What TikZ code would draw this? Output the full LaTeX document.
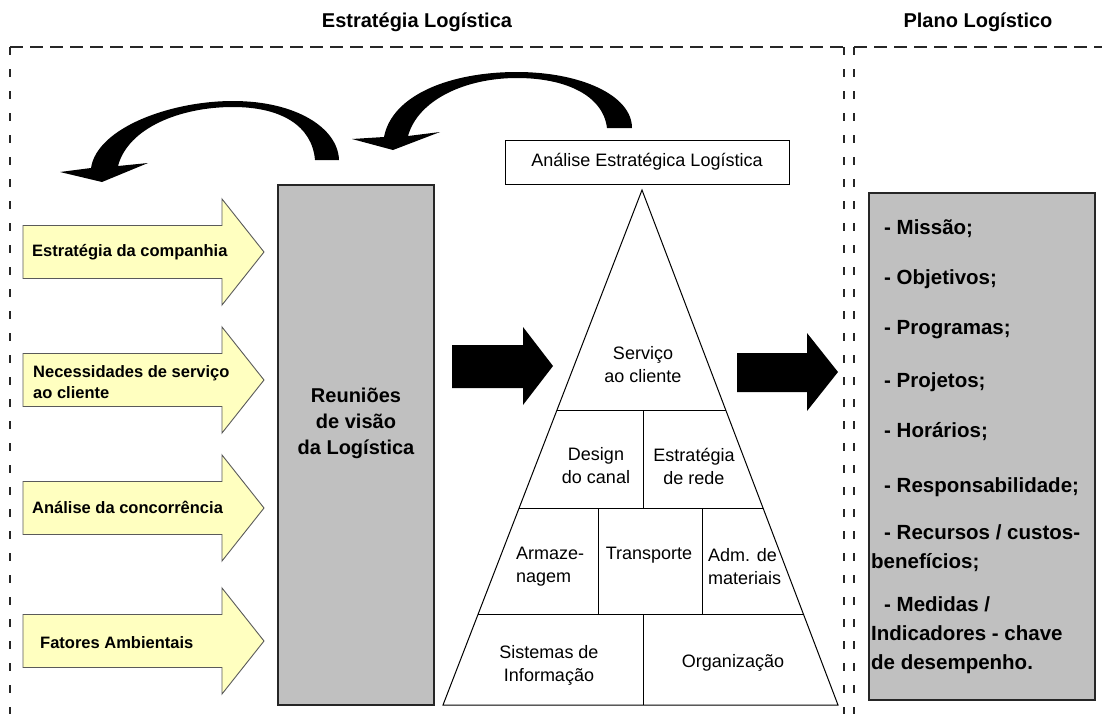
\documentclass[tikz,border=0pt]{standalone}
\usepackage{fontspec}
\setmainfont{Liberation Sans}
\usetikzlibrary{calc}
\definecolor{paleyellow}{RGB}{255,255,192}
\definecolor{panelgrey}{RGB}{192,192,192}
\definecolor{edgegrey}{RGB}{90,90,90}

\begin{document}
\begin{tikzpicture}[x=1pt,y=-1pt,
  frametop/.style={line width=1.2pt, draw=black!85, dash pattern=on 13pt off 7pt},
  frameside/.style={line width=1.2pt, draw=black!85, dash pattern=on 8pt off 14pt},
  title/.style={font=\bfseries\fontsize{20}{24}\selectfont, inner sep=0pt},
  inarrow/.style={fill=paleyellow, draw=edgegrey, line width=0.9pt, line join=miter},
  inlabel/.style={font=\bfseries\fontsize{16.5}{21}\selectfont, anchor=west, align=left, inner sep=0pt},
  panel/.style={fill=panelgrey, draw=black!85, line width=1.2pt, inner sep=0pt},
  blockarrow/.style={fill=black},
  curvedarrow/.style={fill=black},
  tri/.style={draw=black, line width=1pt},
  tritext/.style={font=\fontsize{18}{23}\selectfont, align=center, inner sep=0pt},
  listtext/.style={font=\bfseries\fontsize{20.5}{29}\selectfont, anchor=west, align=left, inner sep=0pt},
]
\clip (0,0) rectangle (1102,713);
\fill[white] (0,0) rectangle (1102,713);

% section titles
\node[title] (strattitle) at (417,22) {Estratégia Logística};
\node[title] (plantitle) at (978,22) {Plano Logístico};

% dashed section frames
\draw[frametop] (10,47) -- (844,47);
\draw[frameside] (10,47) -- (10,720);
\draw[frameside] (844,47) -- (844,720);
\draw[frametop] (854,47) -- (1110,47);
\draw[frameside] (854,47) -- (854,720);

% curved feedback arrows
\fill[curvedarrow] (315,160) .. controls (312,125) and (280,107) .. (233,107)
  .. controls (180,107) and (128,128) .. (118,166)
  -- (148,163) -- (102,182) -- (60,172) -- (91,168)
  .. controls (97,128) and (170,101) .. (233,101)
  .. controls (296,101) and (338,128) .. (339,160) -- cycle;
\fill[curvedarrow] (607,128) .. controls (603,95) and (565,78) .. (517,78)
  .. controls (465,78) and (418,100) .. (408,136)
  -- (440,132) -- (393,150) -- (352,139) -- (384,137)
  .. controls (392,95) and (450,72) .. (517,72)
  .. controls (580,72) and (632,95) .. (632,128) -- cycle;

% input arrows
\foreach \c in {252,380,508,641}{
  \draw[inarrow] (23,\c-26.5) -- (222,\c-26.5) -- (222,\c-53) -- (264,\c)
    -- (222,\c+53) -- (222,\c+26.5) -- (23,\c+26.5) -- cycle;
}
\node[inlabel] (in1) at (32,252) {Estratégia da companhia};
\node[inlabel] (in2) at (33,382) {Necessidades de serviço\\ao cliente};
\node[inlabel] (in3) at (32,507) {Análise da concorrência};
\node[inlabel] (in4) at (40,643) {Fatores Ambientais};

% vision meetings
\node[panel, minimum width=156, minimum height=520] (vision) at (356,445) {};
\node[font=\bfseries\fontsize{20}{26}\selectfont, align=center, inner sep=0pt] (visiontext) at (356,423) {Reuniões\\de visão\\da Logística};

% strategic analysis pyramid
\node[draw=black, line width=1pt, minimum width=284, minimum height=44, inner sep=0pt,
      font=\fontsize{18}{23}\selectfont] (analysis) at (647,162) {Análise Estratégica Logística};
\coordinate (apex) at (642,190);
\coordinate (bl) at (443,705);
\coordinate (br) at (838,705);
\draw[tri] (apex) -- (bl) -- (br) -- cycle;
\draw[tri] ($(apex)!0.4272!(bl)$) -- ($(apex)!0.4272!(br)$);
\draw[tri] ($(apex)!0.6175!(bl)$) -- ($(apex)!0.6175!(br)$);
\draw[tri] ($(apex)!0.8252!(bl)$) -- ($(apex)!0.8252!(br)$);
\draw[tri] (643,410) -- (643,508);
\draw[tri] (598,508) -- (598,615);
\draw[tri] (702,508) -- (702,615);
\draw[tri] (643,615) -- (643,705);

\node[tritext] (service) at (643,365) {Serviço\\ao cliente};
\node[tritext] (channel) at (596,466) {Design\\do canal};
\node[tritext] (network) at (694,466) {Estratégia\\de rede};
\node[tritext, anchor=west, align=left] (storage) at (516,567) {Armaze-\\nagem};
\node[tritext] (transport) at (649,555) {Transporte};
\node[tritext, anchor=west, align=left] (materials) at (708,567) {Adm. de\\materiais};
\node[tritext] (infosys) at (549,665) {Sistemas de\\Informação};
\node[tritext] (organisation) at (733,663) {Organização};

% flow arrows
\fill[blockarrow] (452,345) -- (523,345) -- (523,327) -- (553,366) -- (523,405) -- (523,388) -- (452,388) -- cycle;
\fill[blockarrow] (737,353) -- (807,353) -- (807,333) -- (838,372) -- (807,411) -- (807,392) -- (737,392) -- cycle;

% logistics plan
\node[panel, minimum width=226, minimum height=507] (plan) at (982,446.5) {};
\node[listtext] (p1) at (884,229) {- Missão;};
\node[listtext] (p2) at (884,279) {- Objetivos;};
\node[listtext] (p3) at (884,330) {- Programas;};
\node[listtext] (p4) at (884,382) {- Projetos;};
\node[listtext] (p5) at (884,432) {- Horários;};
\node[listtext] (p6) at (884,487) {- Responsabilidade;};
\node[listtext] (p7) at (871,548.5) {\hspace*{13pt}- Recursos / custos-\\benefícios;};
\node[listtext] (p8) at (871,635.5) {\hspace*{13pt}- Medidas /\\Indicadores - chave\\de desempenho.};
\end{tikzpicture}
\end{document}
